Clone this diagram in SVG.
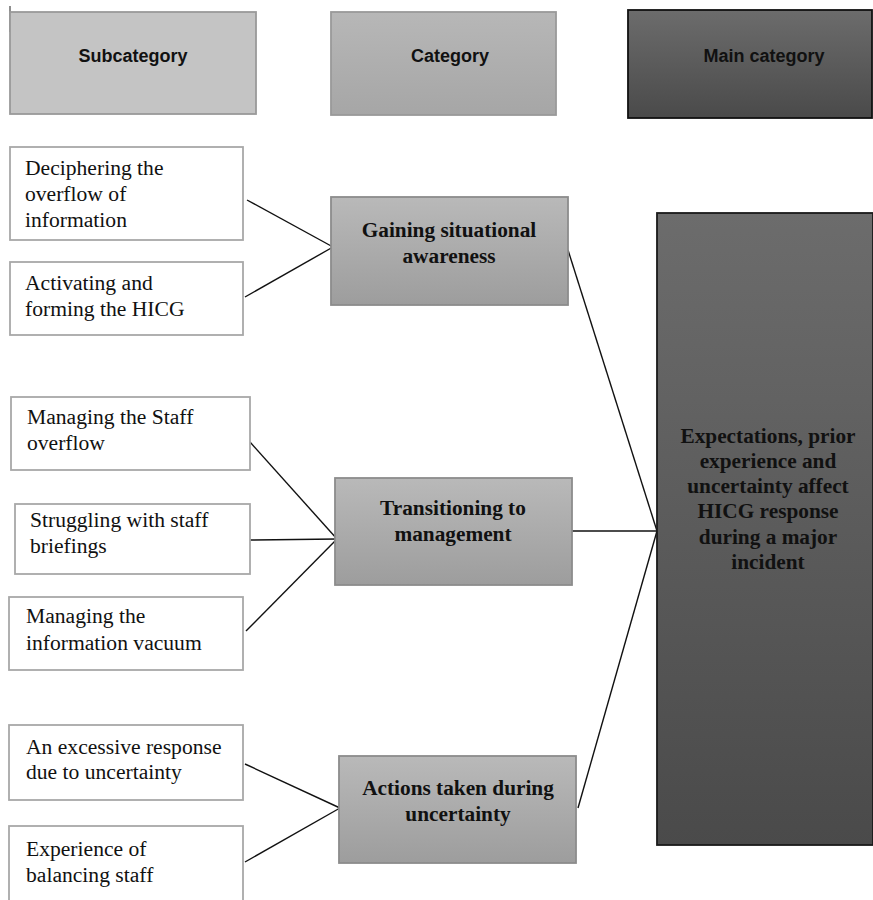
<svg xmlns="http://www.w3.org/2000/svg" width="873" height="900" viewBox="0 0 873 900">
<defs>
<linearGradient id="gCat" x1="0" y1="0" x2="0" y2="1"><stop offset="0" stop-color="#b9b9b9"/><stop offset="1" stop-color="#9d9d9d"/></linearGradient>
<linearGradient id="gHead" x1="0" y1="0" x2="0" y2="1"><stop offset="0" stop-color="#b7b7b7"/><stop offset="1" stop-color="#a6a6a6"/></linearGradient>
<linearGradient id="gMain" x1="0" y1="0" x2="0" y2="1"><stop offset="0" stop-color="#6c6c6c"/><stop offset="1" stop-color="#4a4a4a"/></linearGradient>
<style>
.sub{fill:#fff;stroke:#a8a8a8;stroke-width:1.8}
.cat{fill:url(#gCat);stroke:#8c8c8c;stroke-width:1.8}
.main{fill:url(#gMain);stroke:#1a1a1a;stroke-width:1.8}
.hd{font-family:"Liberation Sans",Arial,sans-serif;font-weight:bold;font-size:18px;fill:#111;text-anchor:middle}
.t{font-family:"Liberation Serif","Times New Roman",serif;font-size:21.6px;fill:#111}
.b{font-family:"Liberation Serif","Times New Roman",serif;font-weight:bold;font-size:21.3px;fill:#111;text-anchor:middle}
.c{stroke:#111;stroke-width:1.4;fill:none}
</style>
</defs>
<rect width="873" height="900" fill="#fff"/>
<line x1="10" y1="6" x2="10" y2="32" stroke="#444" stroke-width="1.2"/>

<g id="head-sub"><rect x="10" y="12" width="246" height="102" fill="#c4c4c4" stroke="#9a9a9a" stroke-width="1.8"/><text class="hd" x="133" y="62">Subcategory</text></g>
<g id="head-cat"><rect x="331" y="12" width="225" height="103" fill="url(#gHead)" stroke="#999" stroke-width="1.8"/><text class="hd" x="450" y="62">Category</text></g>
<g id="head-main"><rect x="628" y="10" width="244" height="108" fill="url(#gMain)" stroke="#111" stroke-width="1.8"/><text class="hd" x="764" y="62">Main category</text></g>

<g id="connectors">
<line class="c" x1="247" y1="200" x2="333" y2="247"/>
<line class="c" x1="245" y1="297" x2="333" y2="247"/>
<line class="c" x1="250" y1="442" x2="337" y2="539"/>
<line class="c" x1="250" y1="540" x2="337" y2="539"/>
<line class="c" x1="246" y1="631" x2="337" y2="539"/>
<line class="c" x1="245" y1="764" x2="340" y2="808"/>
<line class="c" x1="245" y1="862" x2="340" y2="808"/>
<line class="c" x1="568" y1="250" x2="657" y2="531"/>
<line class="c" x1="572" y1="531" x2="657" y2="531"/>
<line class="c" x1="578" y1="808" x2="657" y2="531"/>
</g>

<g id="s1"><rect class="sub" x="10" y="147" width="233" height="93"/><text class="t" x="25" y="175">Deciphering the</text><text class="t" x="25" y="201">overflow of</text><text class="t" x="25" y="227">information</text></g>
<g id="s2"><rect class="sub" x="10" y="262" width="233" height="73"/><text class="t" x="25" y="290">Activating and</text><text class="t" x="25" y="316">forming the HICG</text></g>
<g id="s3"><rect class="sub" x="11" y="397" width="239" height="73"/><text class="t" x="27" y="424">Managing the Staff</text><text class="t" x="27" y="450">overflow</text></g>
<g id="s4"><rect class="sub" x="15" y="504" width="235" height="70"/><text class="t" x="30" y="527">Struggling with staff</text><text class="t" x="30" y="553">briefings</text></g>
<g id="s5"><rect class="sub" x="9" y="597" width="234" height="73"/><text class="t" x="26" y="623">Managing the</text><text class="t" x="26" y="650">information vacuum</text></g>
<g id="s6"><rect class="sub" x="9" y="725" width="234" height="75"/><text class="t" x="26" y="754">An excessive response</text><text class="t" x="26" y="779">due to uncertainty</text></g>
<g id="s7"><rect class="sub" x="9" y="826" width="234" height="90"/><text class="t" x="26" y="856">Experience of</text><text class="t" x="26" y="882">balancing staff</text></g>

<g id="c1"><rect class="cat" x="331" y="197" width="237" height="108"/><text class="b" x="449" y="237">Gaining situational</text><text class="b" x="449" y="263">awareness</text></g>
<g id="c2"><rect class="cat" x="335" y="478" width="237" height="107"/><text class="b" x="453" y="515">Transitioning to</text><text class="b" x="453" y="541">management</text></g>
<g id="c3"><rect class="cat" x="339" y="756" width="237" height="107"/><text class="b" x="458" y="795">Actions taken during</text><text class="b" x="458" y="821">uncertainty</text></g>

<g id="main"><rect class="main" x="657" y="213" width="216" height="632"/>
<text class="b" x="768" y="443">Expectations, prior</text>
<text class="b" x="768" y="468">experience and</text>
<text class="b" x="768" y="493">uncertainty affect</text>
<text class="b" x="768" y="518">HICG response</text>
<text class="b" x="768" y="544">during a major</text>
<text class="b" x="768" y="569">incident</text>
</g>
</svg>
